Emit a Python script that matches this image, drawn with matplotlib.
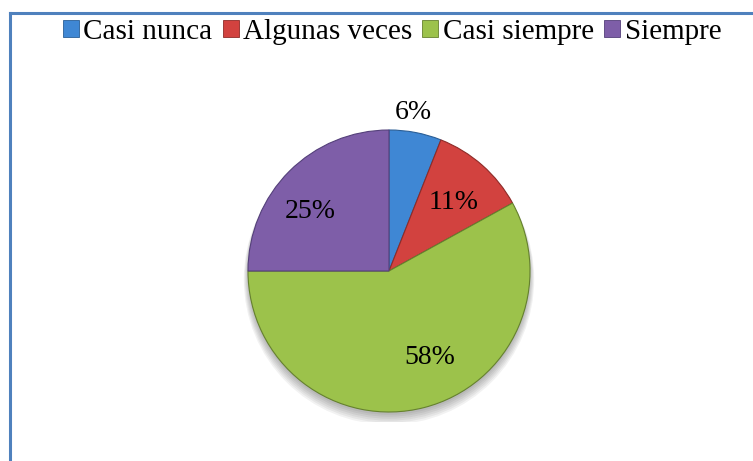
import numpy as np
import matplotlib.pyplot as plt
from matplotlib.lines import Line2D
from matplotlib.patches import Patch, Circle

# data
categories = ['Casi nunca', 'Algunas veces', 'Casi siempre', 'Siempre']
values = [6, 11, 58, 25]
labels = ['6%', '11%', '58%', '25%']

colors = ['#3f87d4', '#d2423f', '#9cc24b', '#7e5ea8']
edges = ['#2a5e96', '#8e2b28', '#65812e', '#54407a']
# label placement: (distance from centre in radii, angle in degrees)
label_pos = [(1.14, 81.4), (0.67, 46.7), (0.68, -65.0), (0.70, 143.2)]

plt.rcParams['font.family'] = ['Liberation Serif', 'DejaVu Serif']

W, H = 753, 461
fig = plt.figure(figsize=(W / 100, H / 100), dpi=100)

# pie centre and radius in pixels
cx, cy, r = 389, 271, 141
ax = fig.add_axes([(cx - r - 10) / W, (H - cy - r - 10) / H, (2 * r + 20) / W, (2 * r + 20) / H])
lim = 1 + 10 / r

# soft shadow under the pie
for i in range(6):
    ax.add_patch(Circle((0, -0.02 - 0.008 * i), 1.0 + 0.006 * i,
                        color='black', alpha=0.05, lw=0, zorder=0))

wedges, _ = ax.pie(values, colors=colors, startangle=90, counterclock=False,
                   wedgeprops=dict(linewidth=0.8))
for w, ec in zip(wedges, edges):
    w.set_edgecolor(ec)
    w.set_zorder(2)

for lab, (d, a) in zip(labels, label_pos):
    ang = np.deg2rad(a)
    ax.text(d * np.cos(ang), d * np.sin(ang), lab, ha='center', va='center',
            fontsize=20, color='black', zorder=3)

ax.set_xlim(-lim, lim)
ax.set_ylim(-lim, lim)
ax.set_aspect('equal')
ax.axis('off')

# legend on top
handles = [Patch(facecolor=c, edgecolor=e, linewidth=0.6) for c, e in zip(colors, edges)]
fig.legend(handles, categories, loc='center', bbox_to_anchor=(392 / W, 1 - 32 / H),
           ncol=4, frameon=False, fontsize=21, handlelength=0.55, handleheight=0.55,
           handletextpad=0.15, columnspacing=0.35, borderpad=0)

# chart frame (only top and left edge visible)
fig.add_artist(Line2D([10 / W, 10 / W], [0, 1 - 13 / H], color='#4f81bd', lw=2.2))
fig.add_artist(Line2D([10 / W, 1], [1 - 13 / H, 1 - 13 / H], color='#4f81bd', lw=2.2))

fig.savefig('out.png', dpi=100)
